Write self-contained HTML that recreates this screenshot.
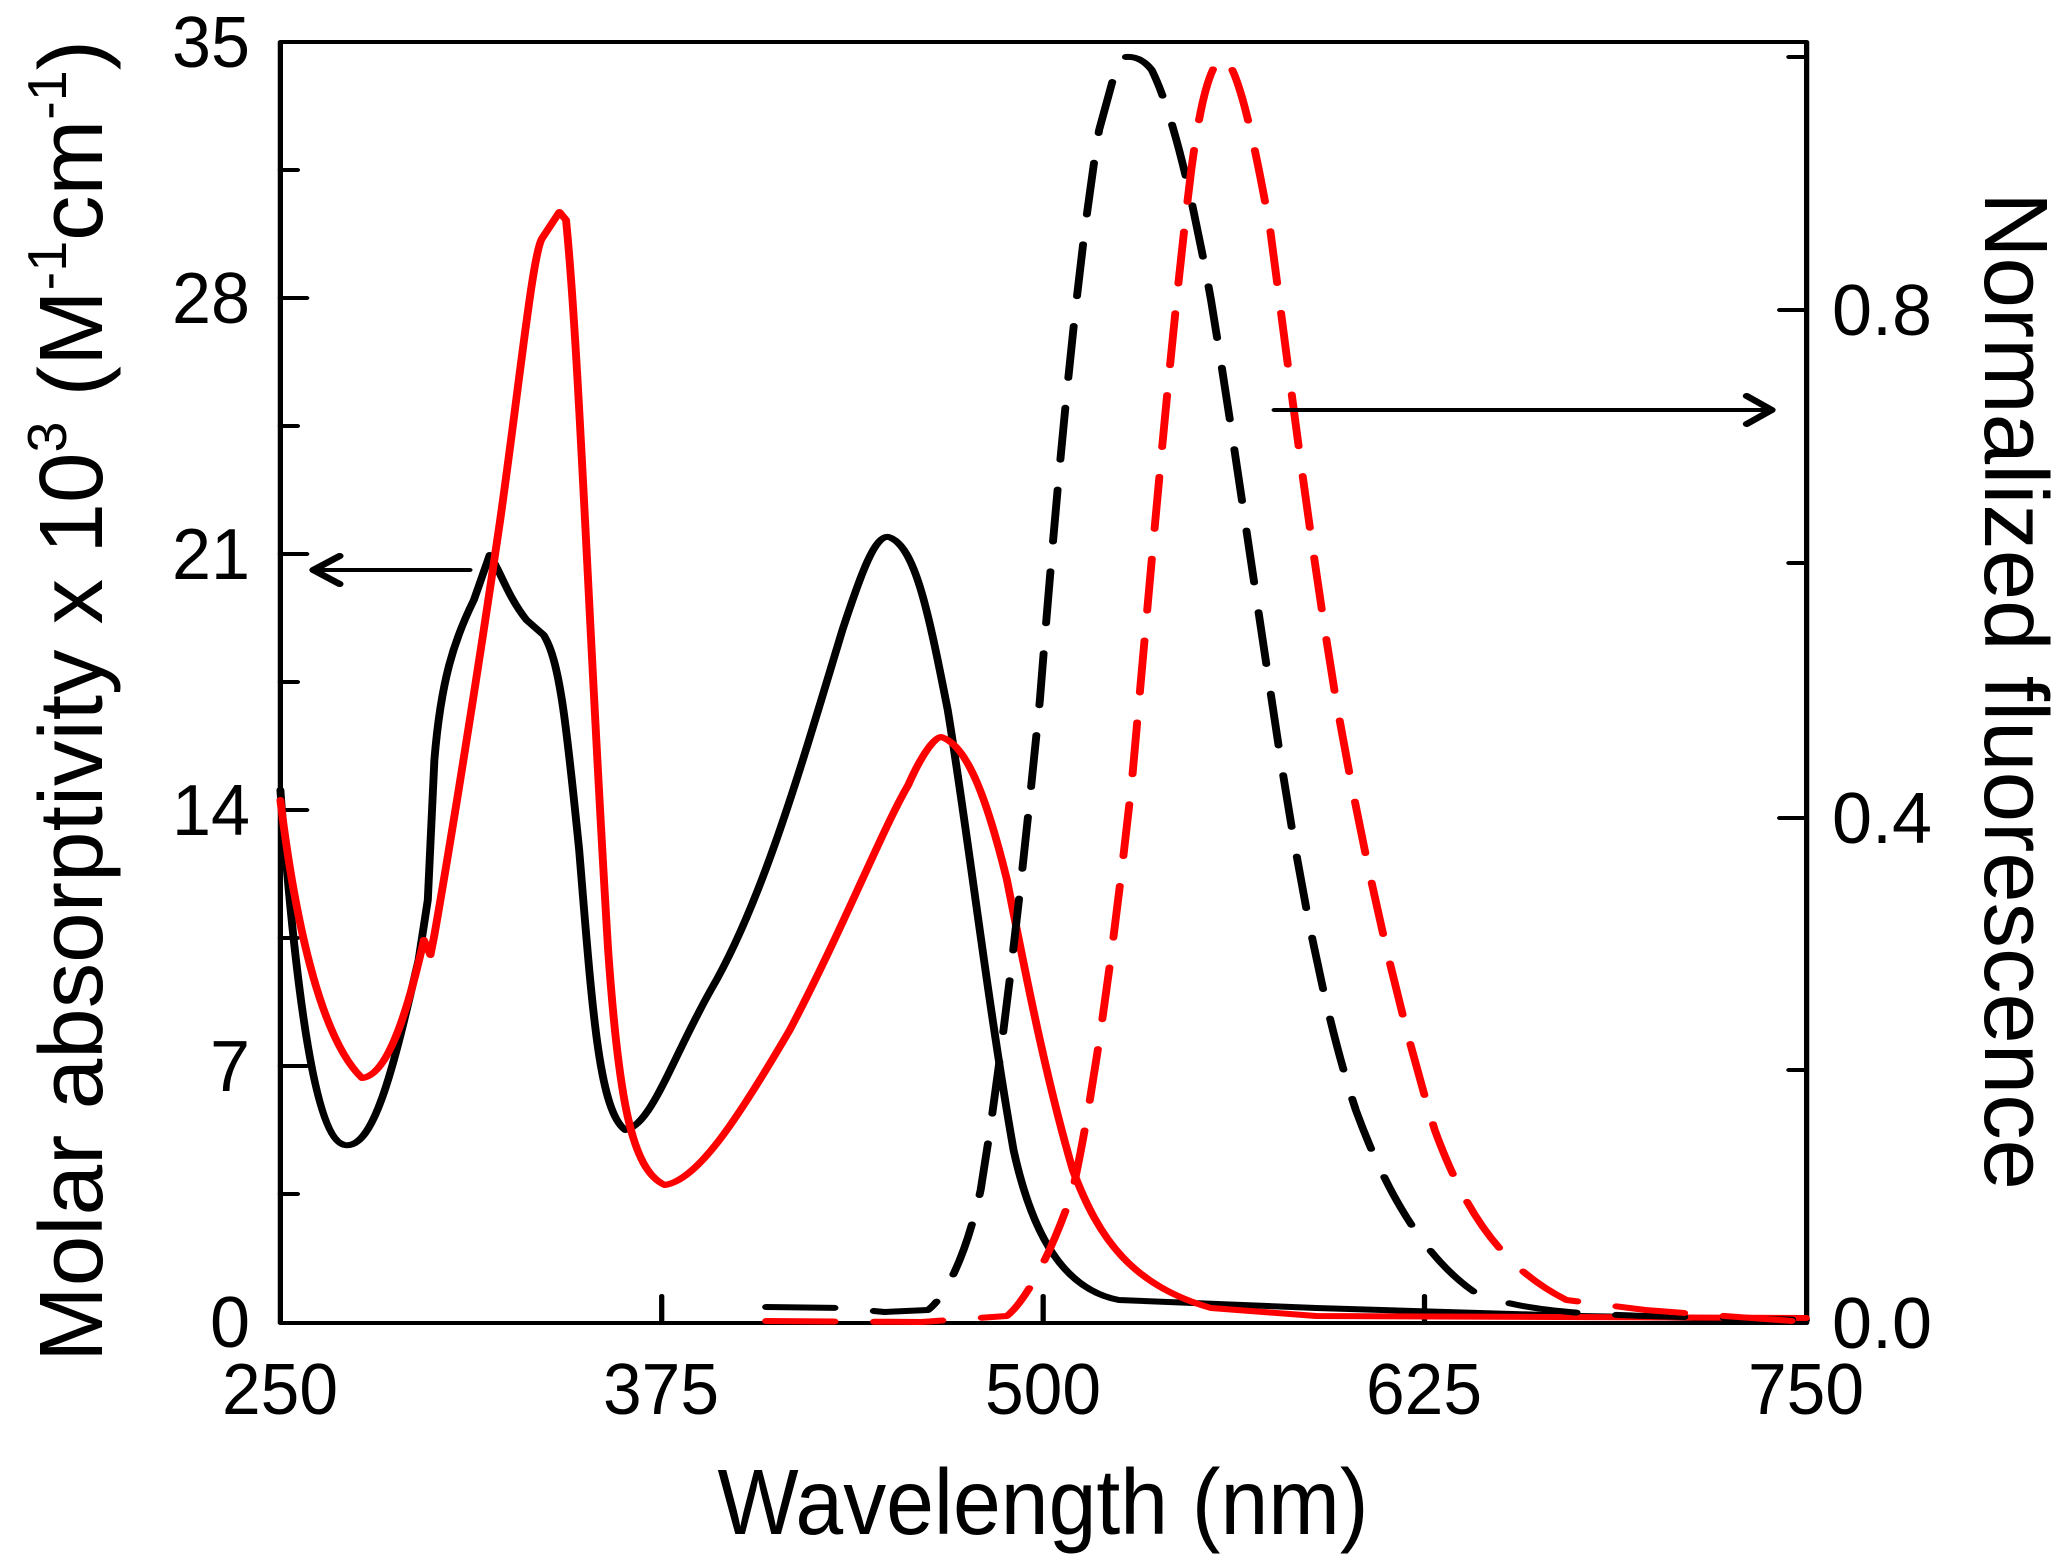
<!DOCTYPE html>
<html><head><meta charset="utf-8"><style>
html,body{margin:0;padding:0;background:#fff;}
svg{display:block;}
text{font-family:"Liberation Sans",sans-serif;fill:#000;}
</style></head><body>
<svg width="2064" height="1568" viewBox="0 0 2064 1568" xmlns="http://www.w3.org/2000/svg">
<g transform="scale(1.3163,1)" fill="none" stroke-linejoin="round" stroke-linecap="round">
  <rect x="213" y="42" width="1159.5" height="1281" stroke="#000" stroke-width="4"/>
  <g stroke="#000" stroke-width="4">
    <path d="M213 298h20M213 554h20M213 810h20M213 1066h20"/>
    <path d="M213 170h13M213 426h13M213 682h13M213 938h13M213 1194h13"/>
    <path d="M1372 310h-20M1372 818h-20M1372 57h-13M1372 563h-13M1372 1070h-13"/>
    <path d="M502.7 1323v-27M792.5 1323v-27M1082.2 1323v-27"/>
  </g>
  <path stroke="#000" stroke-width="6" d="M213 790 C225 1000 240 1140 262 1145 C285 1150 300 1060 318 960 L325 900 L330 760 C335 680 345 640 360 600 L372 555 C380 570 385 595 400 620 L413 635 C425 660 430 720 440 850 C450 1010 455 1110 475 1130 C495 1125 510 1060 540 990 C580 900 610 760 640 630 C655 570 665 535 675 537 C695 545 705 610 720 710 C735 830 750 1000 770 1150 C785 1240 810 1290 850 1300 L1000 1308 L1200 1316 L1372 1320"/>
  <path stroke="#ff0000" stroke-width="6" d="M213 800 C225 930 245 1040 275 1078 C295 1075 310 1010 322 940 L327 955 L330 935 C340 860 360 700 380 520 C395 380 405 250 412 238 L425 212 L430 220 C440 350 448 650 462 950 C470 1100 480 1170 505 1185 C530 1180 560 1120 600 1030 C640 930 670 830 690 785 C700 755 710 737 715 737 C735 745 750 800 765 880 C780 980 795 1080 815 1170 C835 1240 860 1285 920 1308 L1000 1316 L1372 1318"/>
  <path stroke="#000" stroke-width="6" stroke-dasharray="52 30" d="M582 1307 L640 1308 L672 1312 L705 1310 C720 1295 735 1250 745 1190 C760 1070 775 900 790 700 C805 450 820 250 835 130 L850 58 C860 55 868 58 875 70 C890 110 905 190 920 300 C935 420 950 560 965 690 C985 870 1005 1010 1030 1110 C1055 1200 1085 1260 1120 1292 C1150 1310 1200 1314 1250 1316 L1372 1320"/>
  <path stroke="#ff0000" stroke-width="6" stroke-dasharray="52 30" d="M582 1321 L700 1322 L765 1316 C780 1300 800 1250 815 1190 C830 1100 845 960 860 780 C875 560 890 330 905 170 C912 100 920 60 930 57 C940 70 950 120 965 230 C980 380 995 540 1015 700 C1035 850 1060 1000 1090 1130 C1115 1220 1145 1270 1190 1300 L1250 1310 L1310 1316 L1372 1322"/>
  <path stroke="#000" stroke-width="4" d="M357 570 H240"/>
  <path stroke="#000" stroke-width="6" d="M258 556 L238 570 L258 584"/>
  <path stroke="#000" stroke-width="4" d="M968 410 H1343"/>
  <path stroke="#000" stroke-width="6" d="M1327 396 L1346 410 L1327 424"/>
</g>
<g font-size="72" text-anchor="end">
  <text x="250" y="67" textLength="78" lengthAdjust="spacingAndGlyphs">35</text>
  <text x="250" y="323" textLength="78" lengthAdjust="spacingAndGlyphs">28</text>
  <text x="250" y="579" textLength="78" lengthAdjust="spacingAndGlyphs">21</text>
  <text x="250" y="835" textLength="78" lengthAdjust="spacingAndGlyphs">14</text>
  <text x="250" y="1091">7</text>
  <text x="250" y="1347">0</text>
</g>
<g font-size="72">
  <text x="1832" y="335" textLength="100" lengthAdjust="spacingAndGlyphs">0.8</text>
  <text x="1832" y="843" textLength="100" lengthAdjust="spacingAndGlyphs">0.4</text>
  <text x="1832" y="1348" textLength="100" lengthAdjust="spacingAndGlyphs">0.0</text>
</g>
<g font-size="72" text-anchor="middle">
  <text x="280" y="1414" textLength="116" lengthAdjust="spacingAndGlyphs">250</text>
  <text x="661" y="1414" textLength="116" lengthAdjust="spacingAndGlyphs">375</text>
  <text x="1043" y="1414" textLength="116" lengthAdjust="spacingAndGlyphs">500</text>
  <text x="1424" y="1414" textLength="116" lengthAdjust="spacingAndGlyphs">625</text>
  <text x="1806" y="1414" textLength="116" lengthAdjust="spacingAndGlyphs">750</text>
</g>
<text x="1043" y="1534" font-size="93" text-anchor="middle" textLength="651" lengthAdjust="spacingAndGlyphs">Wavelength (nm)</text>
<text transform="translate(102,1362) rotate(-90)" font-size="90" textLength="1322" lengthAdjust="spacingAndGlyphs">Molar absorptivity x 10<tspan font-size="55" dy="-36">3</tspan><tspan dy="36"> (M</tspan><tspan font-size="55" dy="-36">-1</tspan><tspan dy="36">cm</tspan><tspan font-size="55" dy="-36">-1</tspan><tspan dy="36">)</tspan></text>
<text transform="translate(1985,192) rotate(90)" font-size="90" textLength="998" lengthAdjust="spacingAndGlyphs">Normalized fluorescence</text>
</svg>
</body></html>
